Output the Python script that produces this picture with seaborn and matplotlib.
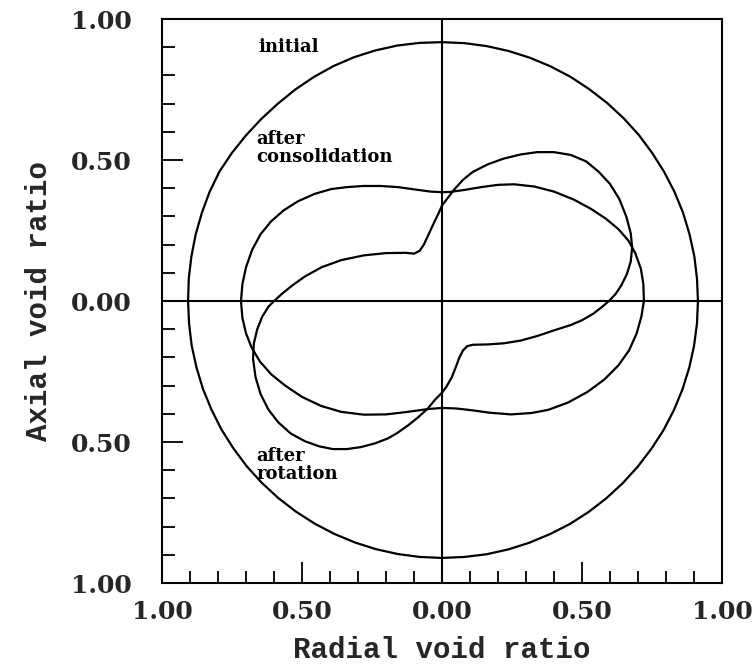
import numpy as np
import pandas as pd
import matplotlib
matplotlib.use("Agg")
import matplotlib.pyplot as plt
import seaborn as sns
from matplotlib.font_manager import FontProperties

# ── data ──────────────────────────────────────────────────────────────────────
# initial: near-circle, radius read every 5 degrees
INIT_ANGLE = list(range(0, 360, 5))
INIT_RADIUS = [0.914, 0.914, 0.915, 0.915, 0.916, 0.916, 0.916, 0.916, 0.917, 0.917, 0.917, 0.917,
               0.918, 0.918, 0.918, 0.918, 0.918, 0.918, 0.918, 0.919, 0.920, 0.920, 0.920, 0.919,
               0.917, 0.915, 0.913, 0.913, 0.914, 0.916, 0.918, 0.916, 0.913, 0.911, 0.909, 0.908,
               0.907, 0.907, 0.908, 0.908, 0.909, 0.909, 0.910, 0.910, 0.911, 0.911, 0.911, 0.911,
               0.911, 0.911, 0.911, 0.911, 0.911, 0.911, 0.911, 0.911, 0.912, 0.912, 0.912, 0.912,
               0.913, 0.913, 0.913, 0.913, 0.913, 0.913, 0.914, 0.914, 0.914, 0.914, 0.914, 0.914]

# after consolidation (x, y), counter-clockwise from the right
CONS_X = [0.721, 0.719, 0.710, 0.690, 0.665, 0.630, 0.585, 0.530, 0.470, 0.400, 0.330, 0.257,
          0.200, 0.140, 0.080, 0.030, 0.000, -0.040, -0.100, -0.157, -0.220, -0.280, -0.340,
          -0.396, -0.455, -0.514, -0.565, -0.610, -0.648, -0.678, -0.700, -0.713, -0.718,
          -0.713, -0.700, -0.680, -0.650, -0.610, -0.560, -0.500, -0.432, -0.360, -0.279,
          -0.200, -0.130, -0.050, 0.000, 0.050, 0.104, 0.170, 0.246, 0.320, 0.379, 0.450,
          0.520, 0.580, 0.630, 0.668, 0.695, 0.712]
CONS_Y = [0.000, 0.060, 0.115, 0.170, 0.215, 0.255, 0.292, 0.328, 0.360, 0.388, 0.406, 0.414,
          0.412, 0.404, 0.394, 0.387, 0.386, 0.388, 0.396, 0.404, 0.408, 0.408, 0.404,
          0.397, 0.380, 0.354, 0.322, 0.283, 0.237, 0.182, 0.120, 0.060, 0.000,
          -0.060, -0.115, -0.165, -0.215, -0.260, -0.300, -0.340, -0.372, -0.393, -0.403,
          -0.402, -0.394, -0.383, -0.379, -0.381, -0.387, -0.396, -0.402, -0.397, -0.386, -0.360,
          -0.322, -0.278, -0.228, -0.175, -0.115, -0.055]

# after rotation (x, y), counter-clockwise from the left crossing
ROT_X = [-0.600, -0.570, -0.535, -0.490, -0.430, -0.360, -0.279, -0.200, -0.130, -0.100,
         -0.080, -0.065, -0.050, -0.030, -0.012, 0.000, 0.020, 0.043, 0.075, 0.110, 0.164,
         0.220, 0.282, 0.340, 0.400, 0.460, 0.515, 0.560, 0.600, 0.633, 0.658, 0.674, 0.679,
         0.674, 0.660, 0.640, 0.620, 0.596, 0.570, 0.540, 0.500, 0.460, 0.400, 0.340, 0.282,
         0.220, 0.160, 0.110, 0.090, 0.075, 0.062, 0.050, 0.035, 0.015, 0.000, -0.025, -0.050,
         -0.085, -0.120, -0.160, -0.193, -0.240, -0.290, -0.340, -0.390, -0.440, -0.490,
         -0.540, -0.585, -0.620, -0.648, -0.666, -0.675, -0.672, -0.660, -0.642, -0.620]
ROT_Y = [0.000, 0.027, 0.055, 0.087, 0.120, 0.145, 0.162, 0.170, 0.171, 0.168,
         0.178, 0.200, 0.232, 0.275, 0.312, 0.339, 0.365, 0.395, 0.430, 0.458, 0.485,
         0.505, 0.520, 0.528, 0.528, 0.518, 0.495, 0.458, 0.415, 0.362, 0.300, 0.240, 0.190,
         0.140, 0.095, 0.055, 0.025, 0.000, -0.022, -0.045, -0.068, -0.085, -0.104, -0.124, -0.140,
         -0.150, -0.154, -0.155, -0.160, -0.175, -0.200, -0.232, -0.270, -0.305, -0.325, -0.350, -0.380,
         -0.412, -0.440, -0.468, -0.487, -0.505, -0.518, -0.525, -0.525, -0.515, -0.497,
         -0.470, -0.430, -0.385, -0.330, -0.270, -0.205, -0.150, -0.100, -0.055, -0.020]

TICKS = [-1.0, -0.5, 0.0, 0.5, 1.0]
TICK_LABELS = ["1.00", "0.50", "0.00", "0.50", "1.00"]
MINOR_TICKS = [-0.9, -0.8, -0.7, -0.6, -0.4, -0.3, -0.2, -0.1,
               0.1, 0.2, 0.3, 0.4, 0.6, 0.7, 0.8, 0.9]


def closed(name, xs, ys):
    xs = list(xs) + [xs[0]]
    ys = list(ys) + [ys[0]]
    return pd.DataFrame({"curve": name, "x": xs, "y": ys})


theta = np.deg2rad(INIT_ANGLE)
init_x = np.array(INIT_RADIUS) * np.cos(theta)
init_y = np.array(INIT_RADIUS) * np.sin(theta)

df = pd.concat([
    closed("initial", init_x, init_y),
    closed("after consolidation", CONS_X, CONS_Y),
    closed("after rotation", ROT_X, ROT_Y),
], ignore_index=True)

sns.set_theme(style="white")
plt.rcParams["font.family"] = ["DejaVu Serif"]

fig = plt.figure(figsize=(7.54, 6.68), dpi=100)
ax = fig.add_axes([0.2149, 0.1272, 0.7427, 0.8443])

sns.lineplot(data=df, x="x", y="y", units="curve", estimator=None, sort=False,
             color="black", linewidth=1.6, legend=False, ax=ax)

ax.axhline(0, color="black", lw=1.5)
ax.axvline(0, color="black", lw=1.5)

ax.set_xlim(-1, 1)
ax.set_ylim(-1, 1)

ax.set_xticks(TICKS)
ax.set_xticklabels(TICK_LABELS)
ax.set_yticks(TICKS)
ax.set_yticklabels(TICK_LABELS)
ax.set_xticks(MINOR_TICKS, minor=True)
ax.set_yticks(MINOR_TICKS, minor=True)

tick_font = FontProperties(family="DejaVu Serif", weight="bold", size=18)
for lab in ax.get_xticklabels() + ax.get_yticklabels():
    lab.set_fontproperties(tick_font)

ax.tick_params(which="major", direction="in", length=15, width=1.3, color="black",
               bottom=True, left=True, top=False, right=False)
ax.tick_params(which="minor", direction="in", length=9, width=1.3, color="black",
               bottom=True, left=True, top=False, right=False)
ax.tick_params(axis="x", which="major", pad=12)
ax.tick_params(axis="y", which="major", pad=22)

for sp in ax.spines.values():
    sp.set_visible(True)
    sp.set_color("black")
    sp.set_linewidth(1.5)

label_font = dict(family="Liberation Mono", weight="bold", size=21)
ax.set_xlabel("Radial void ratio", va="center", **label_font)
ax.set_ylabel("Axial void ratio", va="center", **label_font)
ax.xaxis.set_label_coords(0.5, -0.119)
ax.yaxis.set_label_coords(-0.22, 0.5)

note = dict(family="DejaVu Serif", weight="bold", size=13, ha="left", va="center",
            linespacing=1.0, color="black")
ax.text(-0.657, 0.90, "initial", **note)
ax.text(-0.664, 0.543, "after\nconsolidation", **note)
ax.text(-0.664, -0.58, "after\nrotation", **note)

fig.savefig("out.png", dpi=100)
plt.close(fig)
